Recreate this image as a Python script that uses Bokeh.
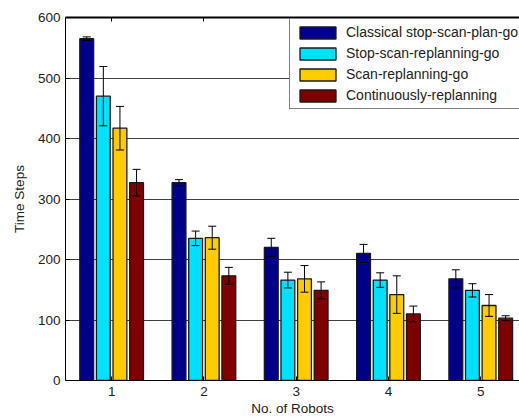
from bokeh.plotting import figure
from bokeh.models import ColumnDataSource, Whisker, LinearAxis, FixedTicker, Range1d, Legend, LegendItem, TeeHead
from bokeh.embed import file_html
from bokeh.resources import INLINE

robots = [1, 2, 3, 4, 5]
series_names = ["Classical stop-scan-plan-go", "Stop-scan-replanning-go",
                "Scan-replanning-go", "Continuously-replanning"]
classical = [565, 327, 220, 210, 168]
classical_err = [3, 5, 15, 15, 15]
stop_scan = [470, 235, 166, 166, 149]
stop_scan_err = [49, 12, 13, 12, 11]
scan_rep = [417, 236, 168, 142, 124]
scan_rep_err = [36, 19, 22, 31, 18]
cont = [327, 173, 149, 110, 103]
cont_err = [22, 14, 14, 13, 4]
y_ticks = [0, 100, 200, 300, 400, 500, 600]

colors = ["#00008B", "#00E0FF", "#FFCC00", "#800000"]
offsets = [-0.27, -0.09, 0.09, 0.27]
values = [classical, stop_scan, scan_rep, cont]
errors = [classical_err, stop_scan_err, scan_rep_err, cont_err]

FONT = "Liberation Sans"

p = figure(width=519, height=418, output_backend="svg", toolbar_location=None,
           x_range=Range1d(0.5, 5.42), y_range=Range1d(0, 600),
           min_border_left=65, min_border_top=17, min_border_bottom=37, min_border_right=0)
p.outline_line_color = None
p.background_fill_color = "white"
p.border_fill_color = "white"

p.xgrid.grid_line_color = None
p.ygrid.grid_line_color = "#404040"
p.ygrid.grid_line_width = 1
p.ygrid.ticker = FixedTicker(ticks=y_ticks)

items = []
for name, col, off, vals, errs in zip(series_names, colors, offsets, values, errors):
    src = ColumnDataSource(dict(
        x=[r + off for r in robots],
        top=vals,
        upper=[v + e for v, e in zip(vals, errs)],
        lower=[v - e for v, e in zip(vals, errs)],
    ))
    r = p.vbar(x="x", top="top", bottom=0, width=0.15, source=src,
               fill_color=col, line_color="#1a1a1a", line_width=1.3)
    items.append(LegendItem(label=name, renderers=[r]))
    w = Whisker(base="x", upper="upper", lower="lower", source=src,
                line_color="black", line_width=1, level="annotation",
                upper_head=TeeHead(size=8, line_color="black", line_width=1),
                lower_head=TeeHead(size=8, line_color="black", line_width=1))
    p.add_layout(w)

xa = p.xaxis[0]
xa.ticker = FixedTicker(ticks=robots)
xa.axis_label = "No. of Robots"
xa.major_tick_in = 4
xa.major_tick_out = 0
xa.minor_tick_line_color = None
xa.major_label_standoff = 6
xa.axis_label_standoff = 2
xa.axis_line_color = "black"
xa.major_tick_line_color = "black"

ya = p.yaxis[0]
ya.ticker = FixedTicker(ticks=y_ticks)
ya.axis_label = "Time Steps"
ya.major_tick_in = 4
ya.major_tick_out = 0
ya.minor_tick_line_color = None
ya.major_label_standoff = 5
ya.axis_label_standoff = 8
ya.axis_line_color = "black"

for ax in [xa, ya]:
    ax.major_label_text_font = FONT
    ax.major_label_text_font_size = "13.5px"
    ax.major_label_text_color = "#222222"
    ax.axis_label_text_font = FONT
    ax.axis_label_text_font_size = "13.5px"
    ax.axis_label_text_font_style = "normal"
    ax.axis_label_text_color = "#222222"

top = LinearAxis(ticker=FixedTicker(ticks=robots), major_label_text_font_size="8px",
                 major_label_text_color=None,
                 major_label_standoff=0, major_tick_in=4, major_tick_out=0,
                 minor_tick_line_color=None, axis_line_width=2, axis_line_color="black")
p.add_layout(top, "above")

legend = Legend(items=items, location=(224, 271), orientation="vertical",
                glyph_width=45, glyph_height=15, label_height=15, spacing=5,
                padding=5, margin=0, label_standoff=6,
                label_text_font=FONT, label_text_font_size="14px", label_text_color="#222222",
                border_line_color="black", border_line_width=1,
                background_fill_color="white", background_fill_alpha=1)
p.add_layout(legend, "center")

open("out.html", "w").write(file_html(p, INLINE))
